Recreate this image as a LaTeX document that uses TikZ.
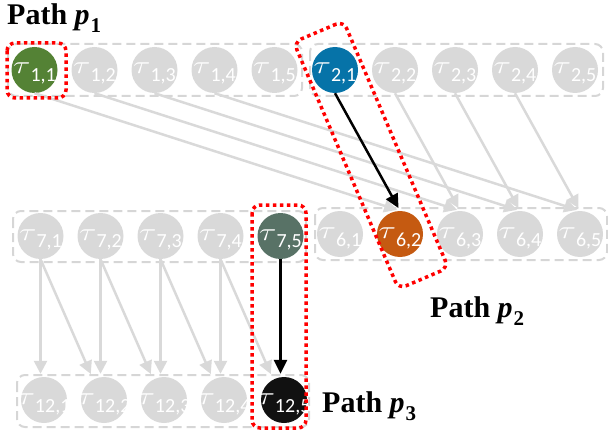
\documentclass[tikz,border=0pt]{standalone}
\usepackage{fontspec}
\setmainfont{Liberation Serif}
\newfontfamily\subfont{Carlito}
\usetikzlibrary{arrows.meta}

\definecolor{nodegray}{HTML}{D9D9D9}
\definecolor{boxgray}{HTML}{D6D6D6}
\definecolor{pgreen}{HTML}{548235}
\definecolor{pblue}{HTML}{0673A8}
\definecolor{porange}{HTML}{C55A11}
\definecolor{pslate}{HTML}{587266}
\definecolor{pblack}{HTML}{111111}
\definecolor{pathred}{HTML}{FF0000}

% task label: tau with a lowered index pair
\newcommand\taulab[2]{\smash{\makebox[0pt]{\raisebox{-4pt}{\scalebox{1.3}[1.0]{\fontsize{24.88}{25}\selectfont$\tau$}\raisebox{-8pt}{\subfont\fontsize{20}{20}\selectfont #1,#2}}}}}

\tikzset{
  tau/.style={circle, minimum size=46pt, inner sep=0pt, fill=#1, text=white},
  grp/.style={draw=boxgray, line width=2pt, dash pattern=on 9pt off 5pt, rounded corners=8pt},
  pathbox/.style={draw=pathred, line width=3.5pt, dash pattern=on 3.5pt off 3.5pt, rounded corners=8pt},
  garrow/.style={draw=nodegray, line width=2.5pt, shorten >=3pt, -{Triangle[length=13pt,width=13pt]}},
  barrow/.style={draw=black, line width=2.5pt, shorten >=3pt, -{Triangle[length=14pt,width=13pt]}},
  pathlab/.style={anchor=base west, inner sep=0pt, font=\fontsize{30}{30}\selectfont\bfseries},
}
\newcommand\pathname[1]{Path \textit{p}\kern1pt\raisebox{-8pt}{\fontsize{21}{21}\selectfont #1}}

\begin{document}
\begin{tikzpicture}[x=1pt,y=-1pt]
\useasboundingbox (0,0) rectangle (608,433);

% group outlines
\draw[grp] (8,44) rectangle (302,96);
\draw[grp] (310,44) rectangle (603,96);
\draw[grp] (315,208) rectangle (607,260);
\draw[grp] (13,211) rectangle (306,262);
\draw[grp] (17,375) rectangle (309,427);

% tasks
\foreach \k/\x/\c in {1/34.5/pgreen,2/94.5/nodegray,3/154.5/nodegray,4/214.5/nodegray,5/274.5/nodegray}
  \node[tau=\c] (t1\k) at (\x,70) {\taulab{1}{\k}};
\foreach \k/\x/\c in {1/335/pblue,2/395/nodegray,3/455/nodegray,4/515/nodegray,5/575/nodegray}
  \node[tau=\c] (t2\k) at (\x,70) {\taulab{2}{\k}};
\foreach \k/\x/\c in {1/340/nodegray,2/400/porange,3/460/nodegray,4/520/nodegray,5/580/nodegray}
  \node[tau=\c] (t6\k) at (\x,234) {\taulab{6}{\k}};
\foreach \k/\x/\c in {1/40.5/nodegray,2/100.5/nodegray,3/160.5/nodegray,4/220.5/nodegray,5/280.5/pslate}
  \node[tau=\c] (t7\k) at (\x,236) {\taulab{7}{\k}};
\foreach \k/\x/\c in {1/44/nodegray,2/104/nodegray,3/164/nodegray,4/224/nodegray,5/284/pblack}
  \node[tau=\c] (t12\k) at (\x,400) {\taulab{12}{\k}};

% dependencies between rows 1/2 and row 6
\foreach \k [evaluate=\k as \n using int(\k+1)] in {1,2,3,4}
  \draw[garrow] (t1\k.south) -- (t6\n.north);
\foreach \k [evaluate=\k as \n using int(\k+1)] in {2,3,4}
  \draw[garrow] (t2\k.south) -- (t6\n.north);
\draw[barrow] (t21.south) -- (t62.north);

% dependencies between row 7 and row 12
\foreach \k [evaluate=\k as \n using int(\k+1)] in {1,2,3,4} {
  \draw[garrow] (t7\k.south) -- (t7\k.south |- t12\k.north);
  \draw[garrow] (t7\k.south) -- ([xshift=-12pt]t12\n.north);
}
\draw[barrow] (t75.south) -- (t75.south |- t125.north);

% highlighted paths
\draw[pathbox] (7,43) rectangle (66,98);
\draw[pathbox] (343.5,21) -- (293.7,42.2) -- (398.5,289) -- (448.3,267.8) -- cycle;
\draw[pathbox] (252,205) rectangle (306,428);

% path names
\node[pathlab] (lp1) at (7,25) {\pathname{1}};
\node[pathlab] (lp2) at (430,317) {\pathname{2}};
\node[pathlab] (lp3) at (322,412) {\pathname{3}};
\end{tikzpicture}
\end{document}
